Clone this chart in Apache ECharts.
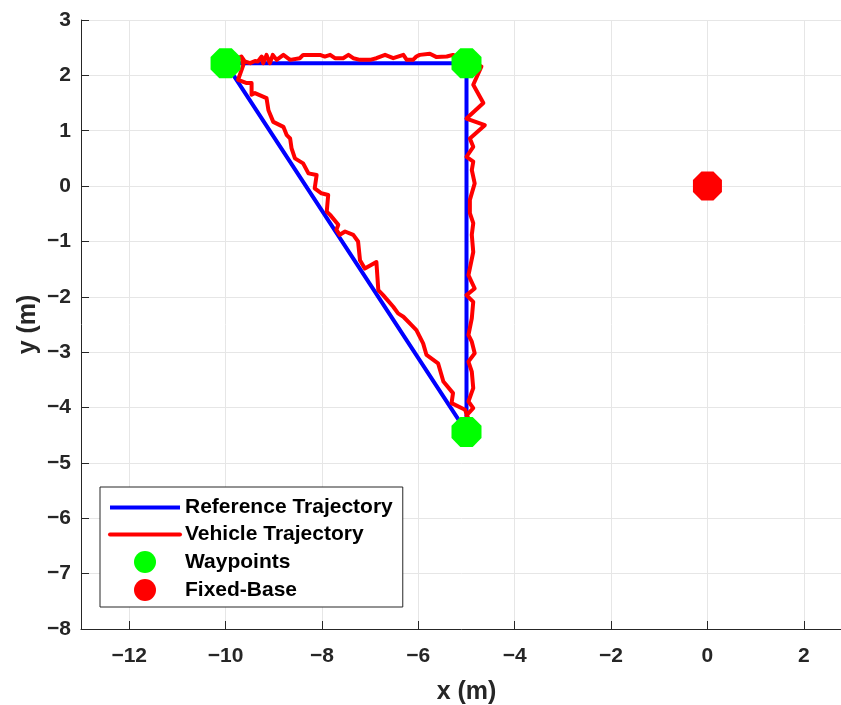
<!DOCTYPE html>
<html>
<head>
<meta charset="utf-8">
<title>Trajectory</title>
<script src="https://cdn.jsdelivr.net/npm/echarts@6.0.0/dist/echarts.min.js"></script>
<style>
  html, body { margin: 0; padding: 0; background: #fff; overflow: hidden; }
  #chart { width: 841px; height: 705px; }
</style>
</head>
<body>
<div id="chart"></div>
<script>
// reference path (triangle through the waypoints)
const refX = [-10, -5, -5, -10]
const refY = [2.22, 2.22, -4.44, 2.22]

// measured vehicle path: top edge, right edge, then back up the diagonal
const vehX = [
  -10, -9.67, -9.60, -9.49, -9.39, -9.33, -9.25, -9.22, -9.15, -9.08,
  -9.02, -8.94, -8.80, -8.66, -8.46, -8.39, -8.21, -8.04, -7.94, -7.83,
  -7.73, -7.56, -7.45, -7.35, -7.21, -7.00, -6.87, -6.69, -6.52, -6.31,
  -6.24, -6.11, -6.04, -5.97, -5.76, -5.62, -5.41, -5.28, -5.10, -4.90,
  -4.69, -4.86, -4.65, -5.00, -4.62, -4.93, -4.86, -5.00, -4.86, -4.89,
  -4.83, -4.93, -4.93, -4.86, -4.89, -4.86, -4.96, -4.83, -5.00, -4.86,
  -4.89, -4.96, -4.89, -4.83, -4.96, -4.89, -4.86, -4.96, -4.86, -5.00,
  -4.97, -5.03,
  -5.31, -5.28, -5.48, -5.59, -5.83, -5.90, -6.04, -6.14, -6.31, -6.42,
  -6.52, -6.73, -6.83, -6.87, -7.11, -7.21, -7.25, -7.35, -7.52, -7.63,
  -7.70, -7.66, -7.83, -7.90, -7.87, -8.01, -8.15, -8.11, -8.28, -8.39,
  -8.56, -8.63, -8.66, -8.73, -8.80, -9.01, -9.11, -9.15, -9.39, -9.46,
  -9.46, -9.56, -9.74, -9.63, -9.67
]
const vehY = [
  2.22, 2.34, 2.25, 2.22, 2.26, 2.25, 2.34, 2.22, 2.37, 2.22,
  2.37, 2.28, 2.37, 2.28, 2.31, 2.37, 2.37, 2.37, 2.34, 2.37,
  2.31, 2.31, 2.37, 2.31, 2.28, 2.28, 2.31, 2.37, 2.31, 2.37,
  2.28, 2.28, 2.34, 2.37, 2.39, 2.33, 2.34, 2.37, 2.30, 2.25,
  2.16, 1.83, 1.50, 1.22, 1.10, 0.86, 0.71, 0.53, 0.44, 0.29,
  0.05, -0.25, -0.49, -0.67, -0.88, -1.19, -1.61, -1.85, -1.97, -2.09,
  -2.39, -2.69, -2.81, -3.02, -3.17, -3.35, -3.65, -3.89, -4.01, -4.14,
  -4.18, -4.04,
  -3.92, -3.74, -3.53, -3.20, -3.05, -2.84, -2.60, -2.51, -2.36, -2.30,
  -2.18, -1.97, -1.88, -1.37, -1.49, -1.34, -1.00, -0.88, -0.82, -0.88,
  -0.79, -0.70, -0.52, -0.46, -0.16, -0.13, -0.04, 0.20, 0.23, 0.41,
  0.50, 0.68, 0.86, 0.92, 1.07, 1.16, 1.37, 1.59, 1.68, 1.65,
  1.86, 1.86, 1.92, 2.19, 2.34
]

const waypointX = [-10, -5, -5]
const waypointY = [2.22, 2.22, -4.44]

const baseX = [0]
const baseY = [0]

// tick labels
const xTicks = [-12, -10, -8, -6, -4, -2, 0, 2]

const zip = (xs, ys) => xs.map((x, i) => [x, ys[i]])
const FONT = '"Liberation Sans", Arial, Helvetica, sans-serif'
const AXIS_COLOR = '#262626'
const minus = v => String(v).replace('-', '\u2212')
const OCTAGON = 'path://M-0.414,-1L0.414,-1L1,-0.414L1,0.414L0.414,1L-0.414,1L-1,0.414L-1,-0.414Z'

const chart = echarts.init(document.getElementById('chart'))

chart.setOption({
  animation: false,
  backgroundColor: '#fff',
  // the plot runs past the right edge of the picture (x max 3 is cut off)
  grid: { left: 81, top: 20, width: 771, bottom: 76, containLabel: false, outerBoundsMode: 'none' },
  xAxis: {
    type: 'value',
    min: -13,
    max: 3,
    name: 'x (m)',
    nameLocation: 'middle',
    nameGap: 51,
    nameTextStyle: { fontFamily: FONT, fontWeight: 'bold', fontSize: 25, color: AXIS_COLOR },
    axisLine: { show: true, onZero: false, lineStyle: { color: AXIS_COLOR, width: 1 } },
    axisTick: { show: true, inside: true, length: 8, customValues: xTicks, lineStyle: { color: AXIS_COLOR } },
    axisLabel: {
      customValues: xTicks,
      margin: 17,
      formatter: minus,
      fontFamily: FONT, fontWeight: 'bold', fontSize: 21, color: AXIS_COLOR
    },
    splitLine: { show: true, lineStyle: { color: '#e6e6e6', width: 1 } }
  },
  yAxis: {
    type: 'value',
    min: -8,
    max: 3,
    interval: 1,
    name: 'y (m)',
    nameLocation: 'middle',
    nameGap: 40,
    nameMoveOverlap: false,
    nameTextStyle: { fontFamily: FONT, fontWeight: 'bold', fontSize: 25, color: AXIS_COLOR },
    axisLine: { show: true, onZero: false, lineStyle: { color: AXIS_COLOR, width: 1 } },
    axisTick: { show: true, inside: true, length: 8, lineStyle: { color: AXIS_COLOR } },
    axisLabel: {
      margin: 10,
      formatter: minus,
      fontFamily: FONT, fontWeight: 'bold', fontSize: 21, color: AXIS_COLOR
    },
    splitLine: { show: true, lineStyle: { color: '#e6e6e6', width: 1 } }
  },
  legend: {
    orient: 'vertical',
    left: 100,
    top: 487,
    padding: [10, 10, 6, 8],
    itemWidth: 70,
    itemHeight: 22,
    itemGap: 6,
    borderColor: AXIS_COLOR,
    borderWidth: 1,
    borderRadius: 0,
    backgroundColor: '#fff',
    textStyle: { fontFamily: FONT, fontWeight: 'bold', fontSize: 21, color: '#000' },
    data: [
      { name: 'Reference Trajectory', itemStyle: { opacity: 0 }, lineStyle: { width: 4 } },
      { name: 'Vehicle Trajectory', itemStyle: { opacity: 0 }, lineStyle: { width: 4 } },
      { name: 'Waypoints', icon: 'circle' },
      { name: 'Fixed-Base', icon: 'circle' }
    ]
  },
  series: [
    {
      name: 'Reference Trajectory',
      type: 'line',
      data: zip(refX, refY),
      symbol: 'none',
      color: '#0000ff',
      lineStyle: { color: '#0000ff', width: 4, join: 'round' },
      z: 2
    },
    {
      name: 'Vehicle Trajectory',
      type: 'line',
      data: zip(vehX, vehY),
      symbol: 'none',
      color: '#ff0000',
      lineStyle: { color: '#ff0000', width: 4, join: 'round', cap: 'round' },
      z: 3
    },
    {
      name: 'Waypoints',
      type: 'scatter',
      data: zip(waypointX, waypointY),
      symbol: OCTAGON,
      symbolSize: 30,
      itemStyle: { color: '#00ff00', opacity: 1 },
      z: 4
    },
    {
      name: 'Fixed-Base',
      type: 'scatter',
      data: zip(baseX, baseY),
      symbol: OCTAGON,
      symbolSize: 29,
      itemStyle: { color: '#ff0000', opacity: 1 },
      z: 4
    }
  ]
})
</script>
</body>
</html>
